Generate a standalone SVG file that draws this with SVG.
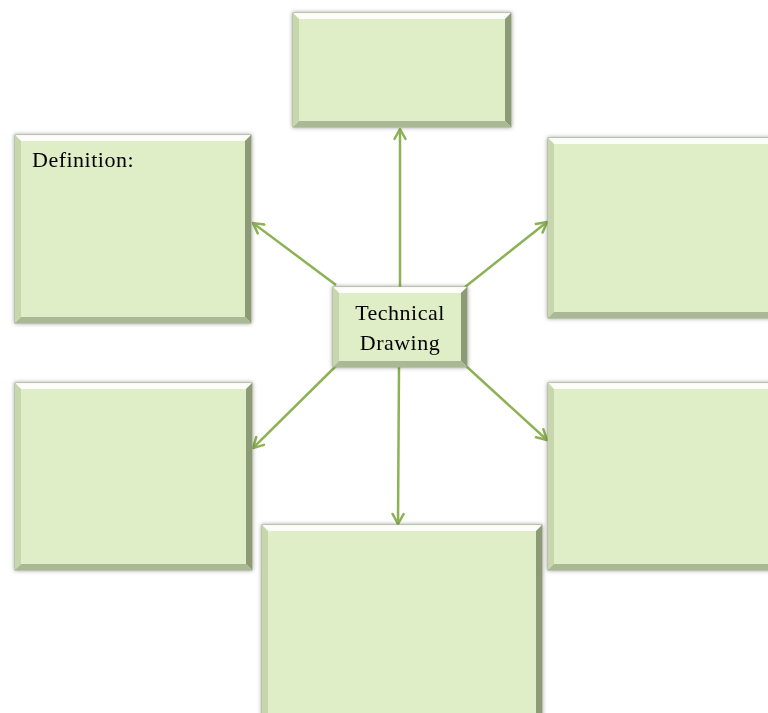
<svg xmlns="http://www.w3.org/2000/svg" width="768" height="713" viewBox="0 0 768 713">
<defs>
<filter id="sh" x="-10%" y="-10%" width="120%" height="120%">
<feDropShadow dx="0" dy="0" stdDeviation="2.2" flood-color="#000" flood-opacity="0.4"/>
</filter>
<marker id="ah" viewBox="0 0 14 14" markerWidth="14" markerHeight="14" refX="12" refY="7" orient="auto" markerUnits="userSpaceOnUse">
<path d="M2,1.5 L12,7 L2,12.5" fill="none" stroke="#8db255" stroke-width="2.5" stroke-linecap="round" stroke-linejoin="round"/>
</marker>
</defs>
<style>
.face{fill:#e0eec8;stroke:#9aa884;stroke-width:1}
.bt{fill:#ffffff;opacity:0.9}
.bl{fill:#c7d6ac}
.br{fill:#8d9a76}
.bb{fill:#aab896}
.c{stroke:#8db255;stroke-width:2.5;fill:none;marker-end:url(#ah)}
.t{font-family:"Liberation Serif","Times New Roman",serif;fill:#000;font-size:22px;letter-spacing:0.5px}
</style>
<g id="connectors">
<line class="c" x1="400" y1="287" x2="400" y2="129"/>
<line class="c" x1="399" y1="367" x2="398" y2="524"/>
<line class="c" x1="336" y1="285" x2="253" y2="223"/>
<line class="c" x1="465" y1="287" x2="547" y2="222"/>
<line class="c" x1="336" y1="366" x2="253" y2="448"/>
<line class="c" x1="466" y1="366" x2="547" y2="440"/>
</g>
<g id="top-box" filter="url(#sh)">
<rect class="face" x="293" y="13" width="218" height="114"/>
<polygon class="bt" points="293,13 511,13 505,19 299,19"/>
<polygon class="bl" points="293,13 299,19 299,121 293,127"/>
<polygon class="br" points="511,13 511,127 505,121 505,19"/>
<polygon class="bb" points="293,127 511,127 505,121 299,121"/>
</g>
<g id="definition-box" filter="url(#sh)">
<rect class="face" x="15" y="135" width="236" height="188"/>
<polygon class="bt" points="15,135 251,135 245,141 21,141"/>
<polygon class="bl" points="15,135 21,141 21,317 15,323"/>
<polygon class="br" points="251,135 251,323 245,317 245,141"/>
<polygon class="bb" points="15,323 251,323 245,317 21,317"/>
<text class="t" x="32" y="167">Definition:</text>
</g>
<g id="right-top-box" filter="url(#sh)">
<rect class="face" x="548" y="138" width="230" height="180"/>
<polygon class="bt" points="548,138 778,138 772,144 554,144"/>
<polygon class="bl" points="548,138 554,144 554,312 548,318"/>
<polygon class="bb" points="548,318 778,318 772,312 554,312"/>
</g>
<g id="left-bottom-box" filter="url(#sh)">
<rect class="face" x="15" y="383" width="237" height="187"/>
<polygon class="bt" points="15,383 252,383 246,389 21,389"/>
<polygon class="bl" points="15,383 21,389 21,564 15,570"/>
<polygon class="br" points="252,383 252,570 246,564 246,389"/>
<polygon class="bb" points="15,570 252,570 246,564 21,564"/>
</g>
<g id="right-bottom-box" filter="url(#sh)">
<rect class="face" x="548" y="383" width="230" height="187"/>
<polygon class="bt" points="548,383 778,383 772,389 554,389"/>
<polygon class="bl" points="548,383 554,389 554,564 548,570"/>
<polygon class="bb" points="548,570 778,570 772,564 554,564"/>
</g>
<g id="bottom-box" filter="url(#sh)">
<rect class="face" x="262" y="525" width="280" height="200"/>
<polygon class="bt" points="262,525 542,525 536,531 268,531"/>
<polygon class="bl" points="262,525 268,531 268,725 262,725"/>
<polygon class="br" points="542,525 542,725 536,725 536,531"/>
</g>
<g id="center-box" filter="url(#sh)">
<rect class="face" x="333" y="287" width="134" height="80"/>
<polygon class="bt" points="333,287 467,287 461,293 339,293"/>
<polygon class="bl" points="333,287 339,293 339,361 333,367"/>
<polygon class="br" points="467,287 467,367 461,361 461,293"/>
<polygon class="bb" points="333,367 467,367 461,361 339,361"/>
<text class="t" x="400" y="320" text-anchor="middle">Technical</text>
<text class="t" x="400" y="350" text-anchor="middle">Drawing</text>
</g>
</svg>
